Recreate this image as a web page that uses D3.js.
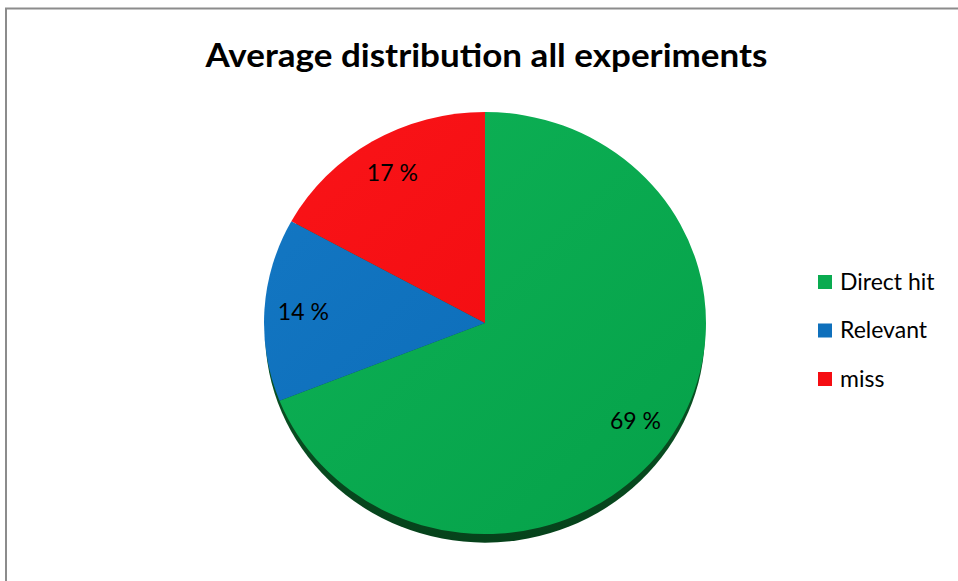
<!DOCTYPE html>
<html>
<head>
<meta charset="utf-8">
<script src="https://cdn.jsdelivr.net/npm/d3@7"></script>
<style>
  body { margin: 0; background: #fff; }
  svg { display: block; }
</style>
</head>
<body>
<div id="chart"></div>
<script>
// data
const categories = ["Direct hit", "Relevant", "miss"]
const values = [69, 14, 17]
const labels = ["69 %", "14 %", "17 %"]
const colors = ["#0aab50", "#0f70bc", "#f50d12"]
const colorsLight = ["#0eb256", "#1478c4", "#fa1418"]
const colorsDark = ["#05a149", "#0968b4", "#ee080d"]

const w = 958
const h = 581
const cx = 485, cy = 323
const radius = 221
const squash = 0.955

const svg = d3.select("#chart").append("svg")
    .attr("width", w)
    .attr("height", h)
    .attr("font-family", "Lato, 'Open Sans', sans-serif")

// outer frame (only top + left visible)
svg.append("rect")
    .attr("x", 6).attr("y", 8.5)
    .attr("width", w + 10).attr("height", h + 10)
    .attr("fill", "none")
    .attr("stroke", "#8c8c8c")
    .attr("stroke-width", 2)

// title
svg.append("text")
    .attr("x", 486.5).attr("y", 67)
    .attr("text-anchor", "middle")
    .attr("font-weight", "bold")
    .attr("font-size", 32)
    .attr("textLength", 562)
    .attr("lengthAdjust", "spacingAndGlyphs")
    .text("Average distribution all experiments")

// gradients for slices
const defs = svg.append("defs")
colors.forEach((c, i) => {
    const g = defs.append("linearGradient")
        .attr("id", "grad" + i)
        .attr("gradientUnits", "userSpaceOnUse")
        .attr("x1", -radius).attr("y1", -radius)
        .attr("x2", radius).attr("y2", radius)
    g.append("stop").attr("offset", "0%").attr("stop-color", colorsLight[i])
    g.append("stop").attr("offset", "100%").attr("stop-color", colorsDark[i])
})
const sg = defs.append("linearGradient")
    .attr("id", "shadowGrad")
    .attr("x1", 0).attr("y1", 0).attr("x2", 0).attr("y2", 1)
sg.append("stop").attr("offset", "0%").attr("stop-color", "#0d6a30")
sg.append("stop").attr("offset", "100%").attr("stop-color", "#06421b")

const pie = d3.pie().sort(null).value(d => d)
const arcs = pie(values)
const arc = d3.arc().innerRadius(0).outerRadius(radius)
const labelArc = d3.arc().innerRadius(182).outerRadius(182)

const pieG = svg.append("g")
    .attr("transform", `translate(${cx},${cy}) scale(1,${squash})`)

// side / depth of the pie
pieG.append("ellipse")
    .attr("cx", 0).attr("cy", 9)
    .attr("rx", radius - 1).attr("ry", radius)
    .attr("fill", "url(#shadowGrad)")

pieG.selectAll("path.slice")
    .data(arcs)
    .enter().append("path")
    .attr("class", "slice")
    .attr("d", arc)
    .attr("fill", (d, i) => "url(#grad" + i + ")")

// slice labels
svg.append("g")
    .attr("transform", `translate(${cx},${cy}) scale(1,${squash})`)
    .selectAll("text")
    .data(arcs)
    .enter().append("text")
    .attr("transform", (d) => {
        const c = labelArc.centroid(d)
        return `translate(${c[0]},${c[1]}) scale(1,${1 / squash})`
    })
    .attr("text-anchor", "middle")
    .attr("dy", "0.35em")
    .attr("font-size", 23)
    .attr("fill", "#000")
    .text((d, i) => labels[i])

// legend
const legend = svg.append("g")
    .attr("transform", "translate(818,275)")

const item = legend.selectAll("g")
    .data(categories)
    .enter().append("g")
    .attr("transform", (d, i) => `translate(0,${i * 48.5})`)

item.append("rect")
    .attr("width", 14).attr("height", 14)
    .attr("fill", (d, i) => colors[i])

item.append("text")
    .attr("x", 22).attr("y", 14.5)
    .attr("font-size", 23)
    .attr("fill", "#000")
    .text(d => d)
</script>
</body>
</html>
